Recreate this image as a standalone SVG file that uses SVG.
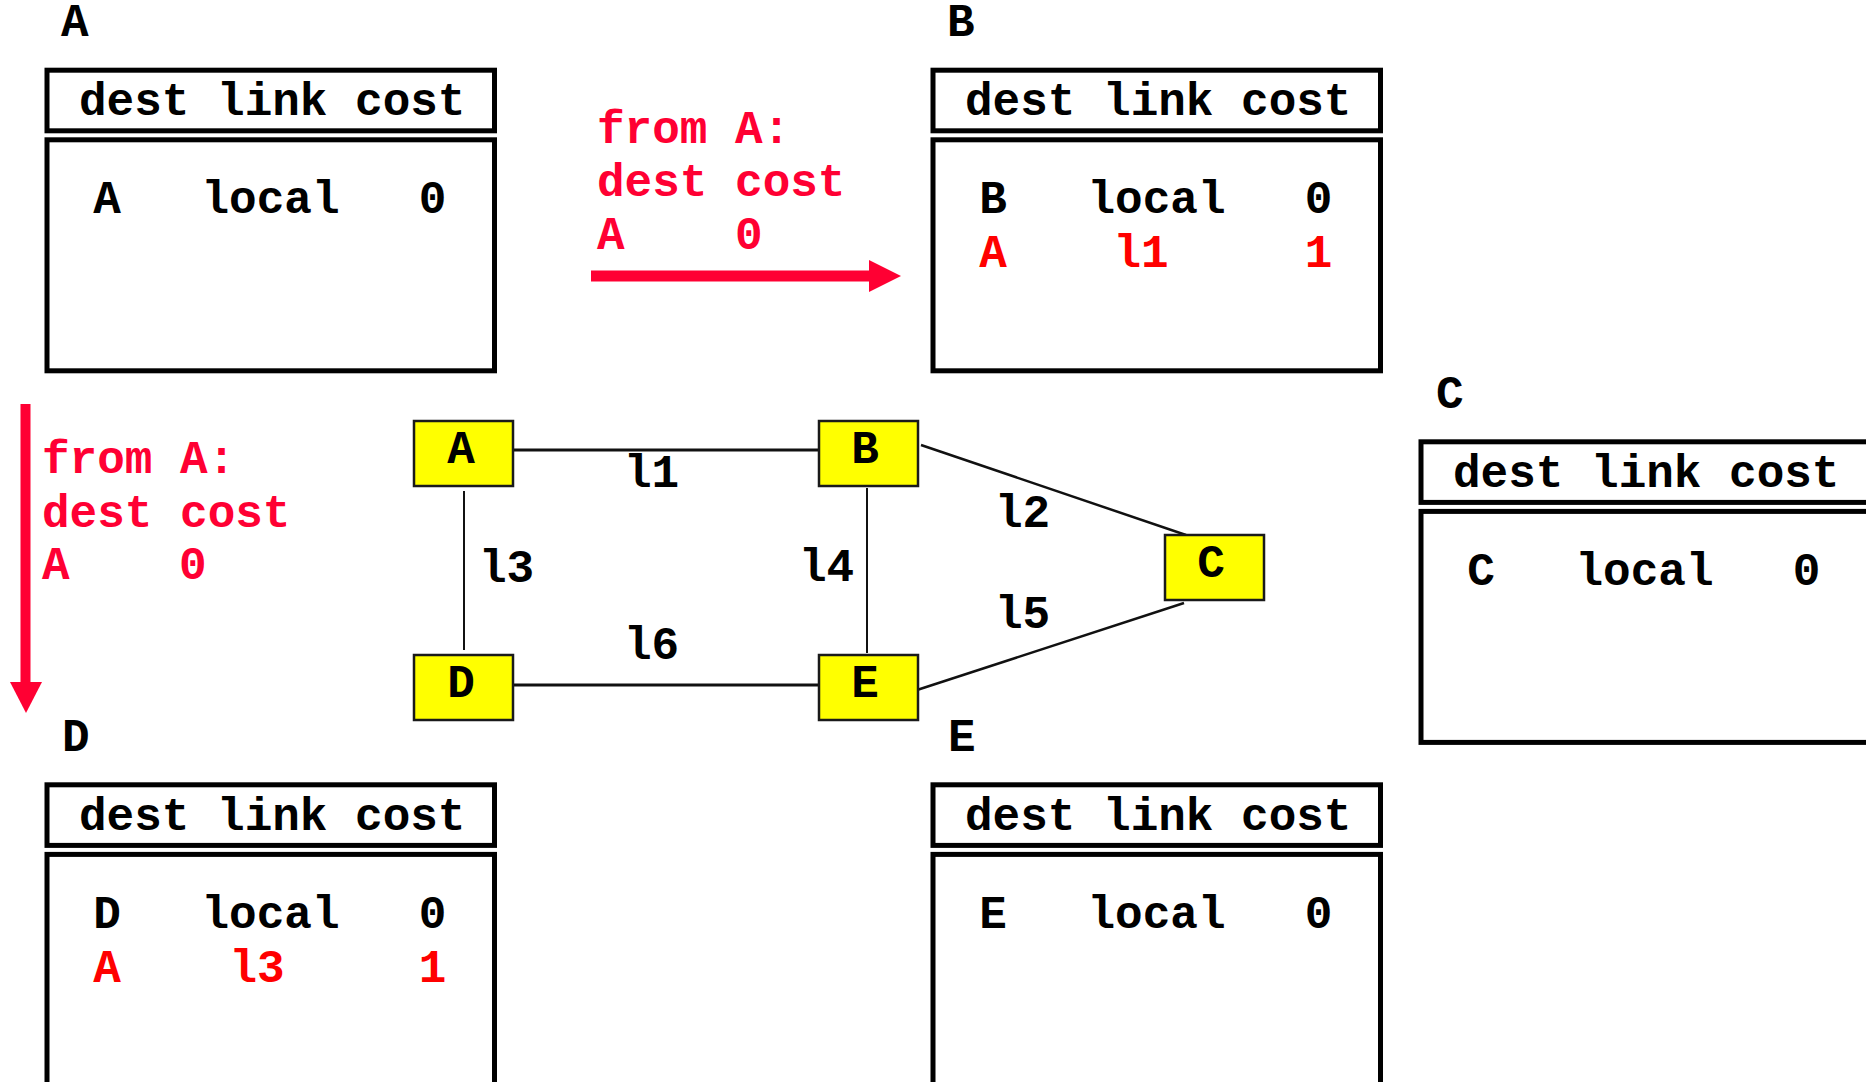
<svg xmlns="http://www.w3.org/2000/svg" width="1866" height="1082" viewBox="0 0 1866 1082">
<defs>
<style>
text{font-family:"Liberation Mono","Courier New",monospace;font-weight:bold;font-size:46px;fill:#000}
.red{fill:#ff0033}
.rr{fill:#ff0000}
.mid{text-anchor:middle}
.tb{fill:#fff;stroke:#000;stroke-width:5}
.node rect{fill:#ffff00;stroke:#1a1a1a;stroke-width:2.5}
.ln{stroke:#111;fill:none}
</style>
<g id="tbl">
<rect class="tb" x="47" y="70.2" width="447.5" height="60.6"/>
<rect class="tb" x="47" y="139.8" width="447.5" height="231"/>
<text x="79" y="115">dest link cost</text>
</g>
</defs>
<rect width="1866" height="1082" fill="#fff"/>

<g id="table-A">
<text x="61" y="36">A</text>
<use href="#tbl"/>
<text class="mid" x="107" y="213">A</text>
<text class="mid" x="270.5" y="213">local</text>
<text class="mid" x="432.5" y="213">0</text>
</g>

<g id="table-B" transform="translate(886,0)">
<text x="61" y="36">B</text>
<use href="#tbl"/>
<text class="mid" x="107" y="213">B</text>
<text class="mid" x="270.5" y="213">local</text>
<text class="mid" x="432.5" y="213">0</text>
<text class="mid rr" x="107" y="267">A</text>
<text class="mid rr" x="255" y="267">l1</text>
<text class="mid rr" x="432.5" y="267">1</text>
</g>

<g id="table-C" transform="translate(1374,371.6)">
<text x="62" y="36">C</text>
<use href="#tbl"/>
<text class="mid" x="107" y="213">C</text>
<text class="mid" x="270.5" y="213">local</text>
<text class="mid" x="432.5" y="213">0</text>
</g>

<g id="table-D" transform="translate(0,714.6)">
<text x="62" y="36">D</text>
<use href="#tbl"/>
<text class="mid" x="107" y="213">D</text>
<text class="mid" x="270.5" y="213">local</text>
<text class="mid" x="432.5" y="213">0</text>
<text class="mid rr" x="107" y="267">A</text>
<text class="mid rr" x="257" y="267">l3</text>
<text class="mid rr" x="432.5" y="267">1</text>
</g>

<g id="table-E" transform="translate(886,714.6)">
<text x="62" y="36">E</text>
<use href="#tbl"/>
<text class="mid" x="107" y="213">E</text>
<text class="mid" x="270.5" y="213">local</text>
<text class="mid" x="432.5" y="213">0</text>
</g>

<g id="msg-to-B">
<text class="red" x="597" y="143">from A:</text>
<text class="red" x="597" y="196">dest cost</text>
<text class="red" x="597" y="249">A</text>
<text class="red" x="735" y="249">0</text>
<rect x="591" y="270.5" width="279" height="11" fill="#ff0033"/>
<polygon points="869,260 901,276 869,292" fill="#ff0033"/>
</g>

<g id="msg-to-D">
<text class="red" x="42" y="473">from A:</text>
<text class="red" x="42" y="527">dest cost</text>
<text class="red" x="42" y="579">A</text>
<text class="red" x="179" y="579">0</text>
<rect x="20.5" y="404" width="10" height="279" fill="#ff0033"/>
<polygon points="10,682 26,713 42,682" fill="#ff0033"/>
</g>

<g id="connectors">
<line class="ln" x1="513" y1="450" x2="819" y2="450" stroke-width="3"/>
<line class="ln" x1="513" y1="685" x2="819" y2="685" stroke-width="3"/>
<line class="ln" x1="464" y1="491" x2="464" y2="650" stroke-width="2"/>
<line class="ln" x1="867" y1="488" x2="867" y2="653" stroke-width="2"/>
<line class="ln" x1="921" y1="445" x2="1186" y2="535" stroke-width="2.5"/>
<line class="ln" x1="917" y1="690" x2="1184" y2="603" stroke-width="2.5"/>
<text x="624" y="487">l1</text>
<text x="995" y="527">l2</text>
<text x="479" y="582">l3</text>
<text x="799" y="581">l4</text>
<text x="995" y="628">l5</text>
<text x="624" y="659">l6</text>
</g>

<g id="node-A" class="node"><rect x="414" y="421" width="99" height="65"/><text class="mid" x="461" y="463">A</text></g>
<g id="node-B" class="node"><rect x="819" y="421" width="99" height="65"/><text class="mid" x="865" y="463">B</text></g>
<g id="node-C" class="node"><rect x="1165" y="535" width="99" height="65"/><text class="mid" x="1211" y="577">C</text></g>
<g id="node-D" class="node"><rect x="414" y="655" width="99" height="65"/><text class="mid" x="461" y="697">D</text></g>
<g id="node-E" class="node"><rect x="819" y="655" width="99" height="65"/><text class="mid" x="865" y="697">E</text></g>
</svg>
